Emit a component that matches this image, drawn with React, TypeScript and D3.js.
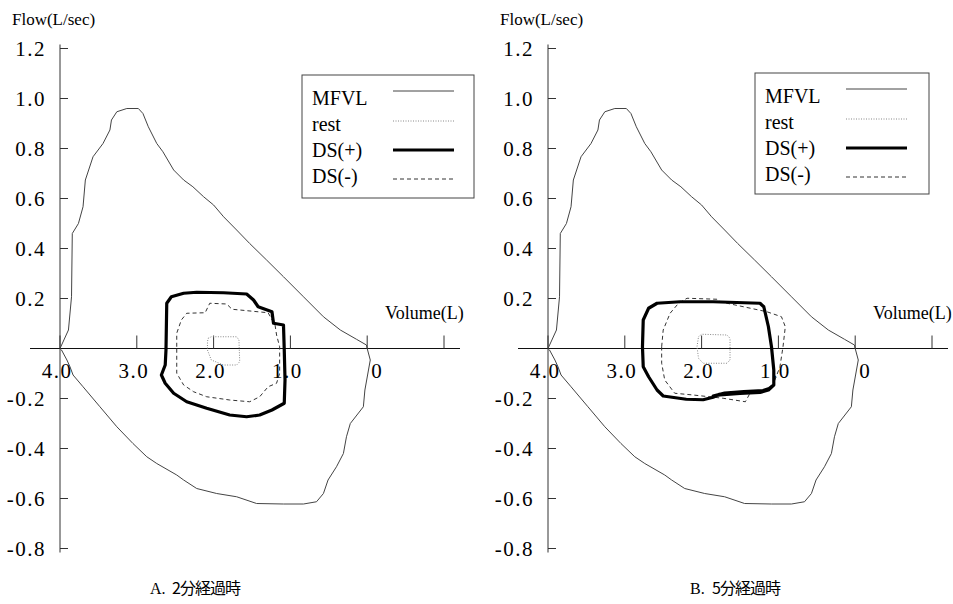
import React from "react";
import * as d3 from "d3";

// maximal flow-volume loop (same in both panels)
const mfvlVol = [4.0, 3.89, 3.85, 3.84, 3.76, 3.7, 3.67, 3.57, 3.44, 3.35, 3.33, 3.26, 3.13, 2.98, 2.92, 2.85, 2.74, 2.66, 2.52, 2.39, 2.27, 2.13, 2.0, 1.87, 1.7, 1.53, 1.31, 1.09, 0.83, 0.57, 0.35, 0.14, 0.01, 0,
  -0.04, 0.03, 0.05, 0.22, 0.27, 0.31, 0.4, 0.51, 0.57, 0.66, 0.83, 1.09, 1.44, 1.7, 1.96, 2.22, 2.39, 2.48, 2.74, 2.87, 3.05, 3.26, 3.48, 3.7, 3.83, 3.87, 3.91, 3.98];
const mfvlFlow = [0, 0.074, 0.207, 0.46, 0.5, 0.567, 0.674, 0.767, 0.82, 0.874, 0.914, 0.947, 0.96, 0.96, 0.94, 0.887, 0.82, 0.787, 0.714, 0.674, 0.647, 0.607, 0.574, 0.527, 0.474, 0.42, 0.354, 0.287, 0.207, 0.127, 0.074, 0.037, 0.014, 0,
  -0.046, -0.166, -0.233, -0.3, -0.353, -0.42, -0.473, -0.526, -0.58, -0.613, -0.622, -0.622, -0.62, -0.593, -0.58, -0.56, -0.526, -0.506, -0.46, -0.433, -0.38, -0.313, -0.233, -0.153, -0.106, -0.073, -0.046, -0.006];

// A: 2 min
const restAVol = [2.07, 2.03, 1.7, 1.67, 1.66, 1.7, 1.87, 2.03, 2.08, 2.08];
const restAFlow = [0.041, 0.047, 0.047, 0.034, -0.053, -0.066, -0.066, -0.046, -0.006, 0.027];
const dsPlusAVol = [2.61, 2.55, 2.39, 2.22, 1.87, 1.57, 1.48, 1.42, 1.24, 1.22, 1.09, 1.08, 1.07, 1.08, 1.24, 1.4, 1.57, 1.79, 2.09, 2.35, 2.52, 2.63, 2.68, 2.63, 2.62];
const dsPlusAFlow = [0.181, 0.207, 0.221, 0.225, 0.223, 0.218, 0.194, 0.167, 0.147, 0.101, 0.094, -0.006, -0.126, -0.219, -0.246, -0.266, -0.273, -0.266, -0.239, -0.213, -0.179, -0.139, -0.106, -0.066, -0.006];
const dsMinusAVol = [2.48, 2.48, 2.42, 2.35, 2.11, 2.05, 1.83, 1.76, 1.29, 1.2, 1.18, 1.14, 1.14, 1.18, 1.29, 1.4, 1.53, 1.79, 2.09, 2.26, 2.39, 2.48];
const dsMinusAFlow = [0.007, 0.061, 0.114, 0.141, 0.143, 0.181, 0.178, 0.157, 0.143, 0.094, 0.054, 0.007, -0.099, -0.139, -0.153, -0.193, -0.213, -0.206, -0.193, -0.173, -0.146, -0.099];

// B: 5 min (DS(+) retraces its lower right part)
const restBVol = [2.04, 2.0, 1.67, 1.63, 1.63, 1.67, 1.98, 2.04, 2.06];
const restBFlow = [0.047, 0.057, 0.054, 0.041, -0.046, -0.059, -0.059, -0.039, 0.007];
const dsPlusBVol = [1.76, 1.85, 1.98, 2.2, 2.5, 2.58, 2.69, 2.76, 2.77, 2.76, 2.69, 2.58, 2.28, 1.85, 1.24, 1.19, 1.13, 1.09, 1.06, 1.06, 1.13, 1.24, 1.5, 1.76, 1.85,
  1.7, 1.45, 1.2, 1.1, 1.08, 1.12];
const dsPlusBFlow = [-0.182, -0.195, -0.205, -0.203, -0.19, -0.166, -0.113, -0.073, 0.007, 0.114, 0.161, 0.181, 0.187, 0.187, 0.181, 0.167, 0.087, 0.007, -0.086, -0.146, -0.166, -0.176, -0.18, -0.186, -0.19,
  -0.178, -0.172, -0.168, -0.158, -0.15, -0.16];
const dsMinusBVol = [2.52, 2.5, 2.41, 2.3, 2.19, 1.8, 1.76, 1.15, 0.96, 0.91, 0.94, 0.98, 1.07, 1.15, 1.37, 1.43, 1.72, 2.11, 2.35, 2.48, 2.52];
const dsMinusBFlow = [0.007, 0.074, 0.141, 0.181, 0.201, 0.197, 0.187, 0.147, 0.127, 0.087, 0.007, -0.073, -0.146, -0.166, -0.179, -0.213, -0.199, -0.186, -0.179, -0.126, -0.059];

const yTicks = [1.2, 1.0, 0.8, 0.6, 0.4, 0.2, -0.2, -0.4, -0.6, -0.8];
const xTicks = [4, 3, 2, 1, 0, -1];
const xTickLabels = ["4.0", "3.0", "2.0", "1.0", "0", ""];
const legendLabels = ["MFVL", "rest", "DS(+)", "DS(-)"];

const serif = "'Liberation Serif', 'Times New Roman', serif";
const cjk = "'Noto Sans CJK JP', 'Liberation Serif', serif";

const styles = [
  { stroke: "#444", width: 1, dash: undefined },
  { stroke: "#888", width: 1, dash: "1,1.5" },
  { stroke: "#000", width: 3.2, dash: undefined },
  { stroke: "#333", width: 1, dash: "4,3" },
];

type PanelProps = {
  x0: number;
  legendX: number;
  legendY: number;
  legendW: number;
  legendH: number;
  rest: [number[], number[]];
  dsPlus: [number[], number[]];
  dsMinus: [number[], number[]];
  dsPlusOpen?: boolean;
  letter: string;
  caption: string;
  captionX: number;
};

const Panel = (p: PanelProps) => {
  const x = d3.scaleLinear().domain([4, 0]).range([p.x0, p.x0 + 4 * 76.8]);
  const y = d3.scaleLinear().domain([1.2, -0.8]).range([48.5, 548.5]);

  const pts = (v: number[], f: number[]) => v.map((d, i) => [d, f[i]] as [number, number]);
  const closed = d3.line<[number, number]>().x((d) => x(d[0])).y((d) => y(d[1])).curve(d3.curveLinearClosed);
  const open = d3.line<[number, number]>().x((d) => x(d[0])).y((d) => y(d[1]));

  const y0 = y(0);
  const axisX = x(4);

  return (
    <g>
      {/* axes */}
      <line x1={axisX} x2={axisX} y1={y(1.2) - 4} y2={y(-0.8) + 4} stroke="#333" strokeWidth={1} />
      {yTicks.map((t) => (
        <g key={t}>
          <line x1={axisX} x2={axisX + 8} y1={y(t)} y2={y(t)} stroke="#333" />
          <text x={axisX - 14} y={y(t)} dy="0.36em" textAnchor="end" fontSize={21} letterSpacing={1.5} fontFamily={serif}>
            {t.toFixed(1)}
          </text>
        </g>
      ))}
      <line x1={p.x0 - 30} x2={p.x0 + 400} y1={y0} y2={y0} stroke="#111" strokeWidth={1.2} />
      {xTicks.map((t, i) => (
        <g key={t}>
          <line x1={x(t)} x2={x(t)} y1={y0} y2={y0 - 13} stroke="#333" />
          <text x={x(t) + (t === 0 ? 10 : -3)} y={y0 + 29} textAnchor="middle" fontSize={21} letterSpacing={1.5} fontFamily={serif}>
            {xTickLabels[i]}
          </text>
        </g>
      ))}
      <text x={p.x0 - 48} y={25} fontSize={17} fontFamily={serif}>Flow(L/sec)</text>
      <text x={p.x0 + 325} y={319} fontSize={18} fontFamily={serif}>Volume(L)</text>

      {/* loops */}
      <path d={closed(pts(mfvlVol, mfvlFlow)) || ""} fill="none" stroke={styles[0].stroke} strokeWidth={1} />
      <path d={closed(pts(p.rest[0], p.rest[1])) || ""} fill="none" stroke={styles[1].stroke} strokeWidth={1} strokeDasharray={styles[1].dash} />
      <path d={closed(pts(p.dsMinus[0], p.dsMinus[1])) || ""} fill="none" stroke={styles[3].stroke} strokeWidth={1} strokeDasharray={styles[3].dash} />
      <path
        d={(p.dsPlusOpen ? open : closed)(pts(p.dsPlus[0], p.dsPlus[1])) || ""}
        fill="none"
        stroke="#000"
        strokeWidth={styles[2].width}
        strokeLinejoin="round"
      />

      {/* legend */}
      <rect x={p.legendX} y={p.legendY} width={p.legendW} height={p.legendH} fill="#fff" stroke="#444" strokeWidth={1} />
      {legendLabels.map((l, i) => {
        const lineY = [16, 46, 75, 104][i];
        const textY = [30, 56, 82, 108][i];
        return (
          <g key={l}>
            <text x={p.legendX + 10} y={p.legendY + textY} fontSize={20} fontFamily={serif}>{l}</text>
            <line
              x1={p.legendX + 91}
              x2={p.legendX + 152}
              y1={p.legendY + lineY}
              y2={p.legendY + lineY}
              stroke={styles[i].stroke}
              strokeWidth={styles[i].width}
              strokeDasharray={styles[i].dash}
            />
          </g>
        );
      })}

      <text x={p.captionX} y={594} fontSize={16} fontFamily={serif}>{p.letter}</text>
      <text x={p.captionX + 22} y={594} fontSize={16} fontFamily={cjk} letterSpacing={-1}>{p.caption}</text>
    </g>
  );
};

export default function App() {
  return (
    <svg width={953} height={604} style={{ position: "absolute", left: 0, top: 0, background: "#fff" }}>
      <rect width={953} height={604} fill="#fff" />
      <Panel
        x0={60}
        legendX={302}
        legendY={75}
        legendW={172}
        legendH={123}
        rest={[restAVol, restAFlow]}
        dsPlus={[dsPlusAVol, dsPlusAFlow]}
        dsMinus={[dsMinusAVol, dsMinusAFlow]}
        letter="A."
        caption="2分経過時"
        captionX={150}
      />
      <Panel
        x0={548}
        legendX={755}
        legendY={73}
        legendW={174}
        legendH={121}
        rest={[restBVol, restBFlow]}
        dsPlus={[dsPlusBVol, dsPlusBFlow]}
        dsMinus={[dsMinusBVol, dsMinusBFlow]}
        dsPlusOpen
        letter="B."
        caption="5分経過時"
        captionX={690}
      />
    </svg>
  );
}
